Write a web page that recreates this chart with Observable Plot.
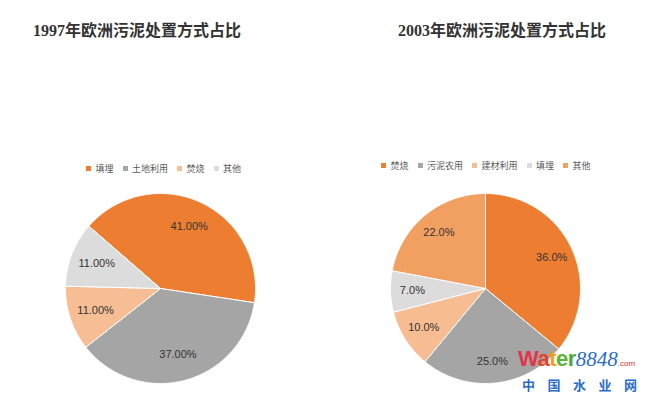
<!DOCTYPE html>
<html>
<head>
<meta charset="utf-8">
<script src="https://cdn.jsdelivr.net/npm/d3@7"></script>
<script src="https://cdn.jsdelivr.net/npm/@observablehq/plot@0.6"></script>
<style>
  html, body { margin: 0; padding: 0; background: #fff; }
  #root { position: relative; width: 647px; height: 396px; overflow: hidden; font-family: "Liberation Sans", "Noto Sans CJK SC", sans-serif; }
  .title { position: absolute; font-family: "Liberation Serif", "Noto Sans CJK SC", serif; font-size: 16px; font-weight: 600; color: #333; white-space: nowrap; }
  .pie { position: absolute; }
  .legend { position: absolute; white-space: nowrap; }
  .wm { position: absolute; white-space: nowrap; }
</style>
</head>
<body>
<div id="root"></div>
<script>
// ---- data ----
const title1997 = "1997年欧洲污泥处置方式占比";
const cats1997 = ["填埋", "土地利用", "焚烧", "其他"];
const vals1997 = [41, 37, 11, 11];
const labels1997 = ["41.00%", "37.00%", "11.00%", "11.00%"];
const colors1997 = ["#ED7D31", "#A5A5A5", "#F7BE95", "#DCDCDC"];

const title2003 = "2003年欧洲污泥处置方式占比";
const cats2003 = ["焚烧", "污泥农用", "建材利用", "填埋", "其他"];
const vals2003 = [36, 25, 10, 7, 22];
const labels2003 = ["36.0%", "25.0%", "10.0%", "7.0%", "22.0%"];
const colors2003 = ["#ED7D31", "#A5A5A5", "#F7BC91", "#DCDCDC", "#F29F62"];

const watermarkChars = ["中", "国", "水", "业", "网"];

const root = document.getElementById("root");

function makePie(cats, vals, labels, colors, startDeg, labelR) {
  const R = 95;
  const pie = d3.pie().sort(null).value(d => d)
    .startAngle(startDeg * Math.PI / 180)
    .endAngle(startDeg * Math.PI / 180 + 2 * Math.PI);
  const arcs = pie(vals);
  const poly = [];
  const lab = [];
  arcs.forEach((a, i) => {
    const key = cats[i];
    poly.push({key, x: 0, y: 0});
    const n = Math.max(2, Math.ceil((a.endAngle - a.startAngle) / 0.01));
    for (let k = 0; k <= n; k++) {
      const t = a.startAngle + (a.endAngle - a.startAngle) * k / n;
      poly.push({key, x: R * Math.sin(t), y: R * Math.cos(t)});
    }
    poly.push({key, x: 0, y: 0});
    const m = (a.startAngle + a.endAngle) / 2;
    lab.push({key, text: labels[i], x: R * labelR * Math.sin(m), y: R * labelR * Math.cos(m)});
  });
  return Plot.plot({
    width: 200, height: 200,
    margin: 0,
    x: {domain: [-100, 100], axis: null},
    y: {domain: [-100, 100], axis: null},
    color: {domain: cats, range: colors},
    style: {background: "transparent", overflow: "visible"},
    marks: [
      Plot.line(poly, {x: "x", y: "y", z: "key", fill: "key", stroke: "#fff", strokeWidth: 1, curve: "linear"}),
      Plot.text(lab, {x: "x", y: "y", text: "text", fill: "#333", fontSize: 11, fontFamily: "Liberation Sans, Arial, sans-serif"})
    ]
  });
}

function makeLegend(cats, colors) {
  return Plot.legend({
    color: {domain: cats, range: colors},
    legend: "swatches",
    swatchSize: 5,
    style: {fontSize: "9px", color: "#595959", fontFamily: "Noto Sans CJK SC, sans-serif"}
  });
}

function place(el, cls, left, top) {
  el.classList.add(cls);
  el.style.left = left + "px";
  el.style.top = top + "px";
  root.appendChild(el);
}

// titles
const t1 = document.createElement("div"); t1.textContent = title1997; place(t1, "title", 33, 17);
const t2 = document.createElement("div"); t2.textContent = title2003; place(t2, "title", 398, 17);

// pies
place(makePie(cats1997, vals1997, labels1997, colors1997, -49, 0.72), "pie", 60, 188);
place(makePie(cats2003, vals2003, labels2003, colors2003, 0, 0.77), "pie", 385, 188);

// legends
place(makeLegend(cats1997, colors1997), "legend", 86, 152);
place(makeLegend(cats2003, colors2003), "legend", 381, 149);

// watermark
const wm = document.createElement("div");
wm.innerHTML = '<div style="font-family:Liberation Sans,Arial,sans-serif;font-weight:bold;font-size:22px;line-height:21px;letter-spacing:-0.5px;">'
  + '<span style="color:#e4344c">W</span><span style="color:#e8412c">a</span><span style="color:#f2a01c">t</span><span style="color:#5cb33a">e</span><span style="color:#4aa83c">r</span>'
  + '<span style="font-family:Liberation Serif,serif;font-style:italic;font-weight:normal;color:#2a6cc8;font-size:21px;letter-spacing:0;">8848</span>'
  + '<span style="color:#e8312f;font-size:8px;font-weight:normal;letter-spacing:0;">.com</span></div>'
  + '<div style="font-family:Noto Sans CJK SC,sans-serif;font-weight:bold;font-size:13px;color:#2a6cc8;line-height:16px;margin-left:4px;margin-top:3px;">'
  + watermarkChars.map((c, i) => '<span style="display:inline-block;width:' + (i < watermarkChars.length - 1 ? 25.5 : 13) + 'px">' + c + '</span>').join("")
  + '</div>';
place(wm, "wm", 518, 348);
</script>
</body>
</html>
